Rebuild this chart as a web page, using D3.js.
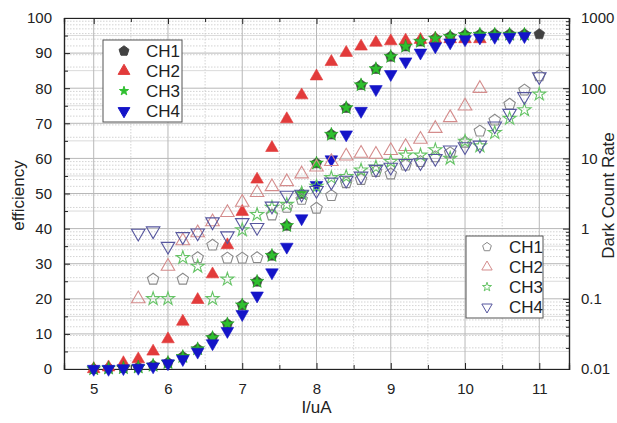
<script src="https://cdnjs.cloudflare.com/ajax/libs/d3/7.8.5/d3.min.js"></script>
<style>
  body { margin: 0; background: #fff; }
  text { font-family: Arial, "Liberation Sans", sans-serif; fill: #222; }
</style>
<svg id="chart" width="617" height="423"></svg>
<script>
// efficiency (left axis, filled markers)
const effX = [5, 5.2, 5.4, 5.6, 5.8, 6, 6.2, 6.4, 6.6, 6.8, 7, 7.2, 7.4, 7.6, 7.8, 8, 8.2, 8.4, 8.6, 8.8, 9, 9.2, 9.4, 9.6, 9.8, 10, 10.2, 10.4, 10.6, 10.8, 11];
const effCH1 = [0, 0.2, 0.3, 0.5, 1, 1.8, 3.5, 5.7, 8.9, 12.8, 18.2, 24.9, 32.3, 40.8, 49.9, 58.6, 66.8, 74.4, 80.9, 85.5, 89, 91.9, 93.3, 94.2, 94.7, 95.2, 95.3, 95.4, 95.4, 95.4, 95.4];
const effCH2 = [0, 0.5, 1.7, 2.8, 5, 8.5, 13.5, 19.7, 27, 35.3, 44.8, 54, 63, 71.2, 78, 83.4, 87.5, 90.1, 91.9, 93, 93.4, 93.6, 93.8, 94, 94, 94, 94];
const effCH3 = [0, 0.2, 0.3, 0.5, 1, 1.8, 3.5, 5.7, 8.9, 12.8, 18.2, 24.9, 32.3, 40.8, 49.9, 58.6, 66.8, 74.4, 80.9, 85.5, 89, 91.9, 93.3, 94.2, 94.7, 95.2, 95.3, 95.3, 95.3, 95.3];
const effCH4 = [0, 0, 0.2, 0.3, 0.7, 1.6, 2.8, 4.9, 7.3, 10.8, 15.6, 20.9, 27.5, 34.8, 42.9, 52.4, 59.7, 66.8, 73.5, 79.7, 84, 87.6, 90.1, 91.9, 93, 93.9, 94.4, 94.6, 94.6, 94.8];

// dark count rate (right axis, hollow markers)
const dcrCH1X = [5.8, 6.2, 6.4, 6.6, 6.8, 7, 7.2, 7.4, 7.6, 7.8, 8, 8.2, 8.4, 8.6, 8.8, 9, 9.2, 9.4, 9.6, 9.8, 10, 10.2, 10.4, 10.6, 10.8, 11];
const dcrCH1 = [0.19, 0.19, 0.385, 0.58, 0.38, 0.38, 0.385, 1.56, 2.0, 2.6, 1.95, 2.95, 4.5, 5.0, 6.5, 6.0, 8.0, 9.0, 10.5, 12, 17, 24.5, 35, 59, 94, 150];
const dcrCH2X = [5.6, 6, 6.2, 6.4, 6.6, 6.8, 7, 7.2, 7.4, 7.6, 7.8, 8, 8.2, 8.4, 8.6, 8.8, 9, 9.2, 9.4, 9.6, 9.8, 10, 10.2];
const dcrCH2 = [0.1, 0.29, 0.67, 0.87, 1.25, 1.69, 2.37, 3.25, 3.95, 4.65, 6.0, 7.5, 9.0, 10.8, 11.8, 11.4, 12.9, 14.7, 18.7, 26.7, 38, 55.7, 99];
const dcrCH3X = [5.8, 6, 6.2, 6.4, 6.6, 6.8, 7, 7.2, 7.4, 7.6, 7.8, 8, 8.2, 8.4, 8.6, 8.8, 9, 9.2, 9.4, 9.6, 9.8, 10, 10.2, 10.4, 10.6, 10.8, 11];
const dcrCH3 = [0.1, 0.1, 0.385, 0.29, 0.1, 0.19, 0.96, 1.58, 2.0, 2.2, 3.2, 4.0, 5.3, 5.5, 6.8, 7.5, 9.0, 11.1, 11.1, 13.2, 10, 17.5, 15, 23.2, 37, 49, 82];
const dcrCH4X = [5.6, 5.8, 6, 6.2, 6.4, 6.6, 6.8, 7, 7.2, 7.4, 7.6, 7.8, 8, 8.2, 8.4, 8.6, 8.8, 9, 9.2, 9.4, 9.6, 9.8, 10, 10.2, 10.4, 10.6, 10.8, 11];
const dcrCH4 = [0.86, 0.93, 0.56, 0.77, 0.87, 1.25, 0.79, 1.22, 1.04, 2.1, 3.0, 3.1, 3.5, 4.6, 4.9, 5.6, 7.0, 7.5, 8.5, 8.7, 10, 13.2, 14.7, 15.5, 29, 44, 76, 146];

const xTicks = [5, 6, 7, 8, 9, 10, 11];
const yLeftTicks = [0, 10, 20, 30, 40, 50, 60, 70, 80, 90, 100];
const yRightTicks = [0.01, 0.1, 1, 10, 100, 1000];
const channels = ["CH1", "CH2", "CH3", "CH4"];

const svg = d3.select("#chart");
const L = 64, R = 569, T = 18, B = 369;

const x = d3.scaleLinear().domain([4.6, 11.4]).range([L, R]);
const yL = d3.scaleLinear().domain([0, 100]).range([B, T]);
const yR = d3.scaleLog().domain([0.01, 1000]).range([B, T]);

// grid
const grid = svg.append("g");
// log minor lines (dotted)
const logMinor = [];
for (let e = -2; e < 3; e++) for (let m = 2; m <= 9; m++) logMinor.push(m * Math.pow(10, e));
grid.selectAll(".lm").data(logMinor).join("line")
  .attr("x1", L).attr("x2", R)
  .attr("y1", d => yR(d)).attr("y2", d => yR(d))
  .attr("stroke", "#c8c8c8").attr("stroke-width", 0.8).attr("stroke-dasharray", "1.5,1.5");
grid.selectAll(".xm").data(d3.range(5.5, 11.4, 1)).join("line")
  .attr("x1", d => x(d)).attr("x2", d => x(d)).attr("y1", T).attr("y2", B)
  .attr("stroke", "#c8c8c8").attr("stroke-width", 0.8).attr("stroke-dasharray", "1.5,1.5");
grid.selectAll(".ym").data(d3.range(5, 100, 10)).join("line")
  .attr("x1", L).attr("x2", R).attr("y1", d => yL(d)).attr("y2", d => yL(d))
  .attr("stroke", "#dadada").attr("stroke-width", 1);
grid.selectAll(".yM").data(yLeftTicks).join("line")
  .attr("x1", L).attr("x2", R).attr("y1", d => yL(d)).attr("y2", d => yL(d))
  .attr("stroke", "#b8b8b8").attr("stroke-width", 1);
grid.selectAll(".xM").data(xTicks).join("line")
  .attr("x1", d => x(d)).attr("x2", d => x(d)).attr("y1", T).attr("y2", B)
  .attr("stroke", "#b8b8b8").attr("stroke-width", 1);

// axes (ticks inward)
svg.append("g").attr("transform", `translate(0,${B})`)
  .call(d3.axisBottom(x).tickValues(xTicks).tickSize(-6).tickPadding(14).tickFormat(d3.format("d")));
svg.append("g").attr("transform", `translate(0,${B})`)
  .call(d3.axisBottom(x).tickValues(d3.range(5.5, 11.4, 1)).tickSize(-4).tickFormat(""));
svg.append("g").attr("transform", `translate(0,${T})`)
  .call(d3.axisTop(x).tickValues(xTicks).tickSize(-6).tickFormat(""));
svg.append("g").attr("transform", `translate(0,${T})`)
  .call(d3.axisTop(x).tickValues(d3.range(5.5, 11.4, 1)).tickSize(-4).tickFormat(""));
svg.append("g").attr("transform", `translate(${L},0)`)
  .call(d3.axisLeft(yL).tickValues(yLeftTicks).tickSize(-6).tickPadding(12));
svg.append("g").attr("transform", `translate(${L},0)`)
  .call(d3.axisLeft(yL).tickValues(d3.range(5, 100, 10)).tickSize(-4).tickFormat(""));
svg.append("g").attr("transform", `translate(${R},0)`)
  .call(d3.axisRight(yR).tickValues(yRightTicks).tickSize(-6).tickPadding(12).tickFormat(d => d3.format("")(d)));
svg.append("g").attr("transform", `translate(${R},0)`)
  .call(d3.axisRight(yR).tickValues(logMinor).tickSize(-3).tickFormat(""));
svg.selectAll(".domain").attr("stroke", "#222").attr("stroke-width", 1.2);
svg.selectAll(".tick line").attr("stroke", "#222");
svg.selectAll(".tick text").style("font-size", "15px").attr("fill", "#222");

// axis titles
svg.append("text").attr("x", (L + R) / 2).attr("y", 413).attr("text-anchor", "middle")
  .style("font-size", "17px").text("I/uA");
svg.append("text").attr("transform", `translate(24,${(T + B) / 2 + 2}) rotate(-90)`)
  .attr("text-anchor", "middle").style("font-size", "17px").text("efficiency");
svg.append("text").attr("transform", `translate(614,${(T + B) / 2 + 2}) rotate(-90)`)
  .attr("text-anchor", "middle").style("font-size", "17px").text("Dark Count Rate");

// marker shapes
function pentagon(r) {
  const p = d3.range(5).map(i => {
    const a = -Math.PI / 2 + i * 2 * Math.PI / 5;
    return [r * Math.cos(a), r * Math.sin(a)];
  });
  return "M" + p.join("L") + "Z";
}
const shapes = [
  s => pentagon(s),
  s => d3.symbol(d3.symbolTriangle, s * s * 2.2)(),
  s => d3.symbol(d3.symbolStar, s * s * 1.6)(),
  s => d3.symbol(d3.symbolTriangle, s * s * 2.2)()
];
const rot = [0, 0, 0, 180];
const fillCol = ["#424242", "#e23b3b", "#2fbf2f", "#1414c8"];
const hollowCol = ["#8a8a8a", "#d48c8c", "#66c466", "#56569e"];

function drawFilled(xs, ys, i) {
  svg.append("g").selectAll("path").data(ys).join("path")
    .attr("d", shapes[i](i === 2 ? 6 : 5.6))
    .attr("transform", (d, k) => `translate(${x(xs[k])},${yL(d)}) rotate(${rot[i]})`)
    .attr("fill", fillCol[i]).attr("stroke", i === 2 ? "#1e9a1e" : fillCol[i]).attr("stroke-width", 0.6);
}
function drawHollow(xs, ys, i) {
  svg.append("g").selectAll("path").data(ys).join("path")
    .attr("d", shapes[i](i === 2 ? 5.8 : 6))
    .attr("transform", (d, k) => `translate(${x(xs[k])},${yR(d)}) rotate(${rot[i]})`)
    .attr("fill", "none").attr("stroke", hollowCol[i]).attr("stroke-width", 1.1);
}

drawFilled(effX, effCH1, 0);
drawFilled(effX, effCH2, 1);
drawFilled(effX, effCH3, 2);
drawFilled(effX, effCH4, 3);
drawHollow(dcrCH1X, dcrCH1, 0);
drawHollow(dcrCH2X, dcrCH2, 1);
drawHollow(dcrCH3X, dcrCH3, 2);
drawHollow(dcrCH4X, dcrCH4, 3);

// legends
function legend(x0, y0, w, h, filled) {
  const g = svg.append("g");
  g.append("rect").attr("x", x0).attr("y", y0).attr("width", w).attr("height", h)
    .attr("fill", "#fff").attr("stroke", "#555").attr("stroke-width", 1);
  channels.forEach((c, i) => {
    const cy = y0 + 11 + i * 20;
    const sz = filled ? (i === 2 ? 4 : 5.2) : (i === 2 ? 4 : 4.6);
    g.append("path").attr("d", shapes[i](sz))
      .attr("transform", `translate(${x0 + 21},${cy}) rotate(${rot[i]})`)
      .attr("fill", filled ? fillCol[i] : "none")
      .attr("stroke", filled ? fillCol[i] : hollowCol[i]).attr("stroke-width", 1);
    g.append("text").attr("x", x0 + 43).attr("y", cy + 6).style("font-size", "17px").text(c);
  });
}
legend(103, 40, 79, 82, true);
legend(466, 236, 77, 82, false);
</script>
